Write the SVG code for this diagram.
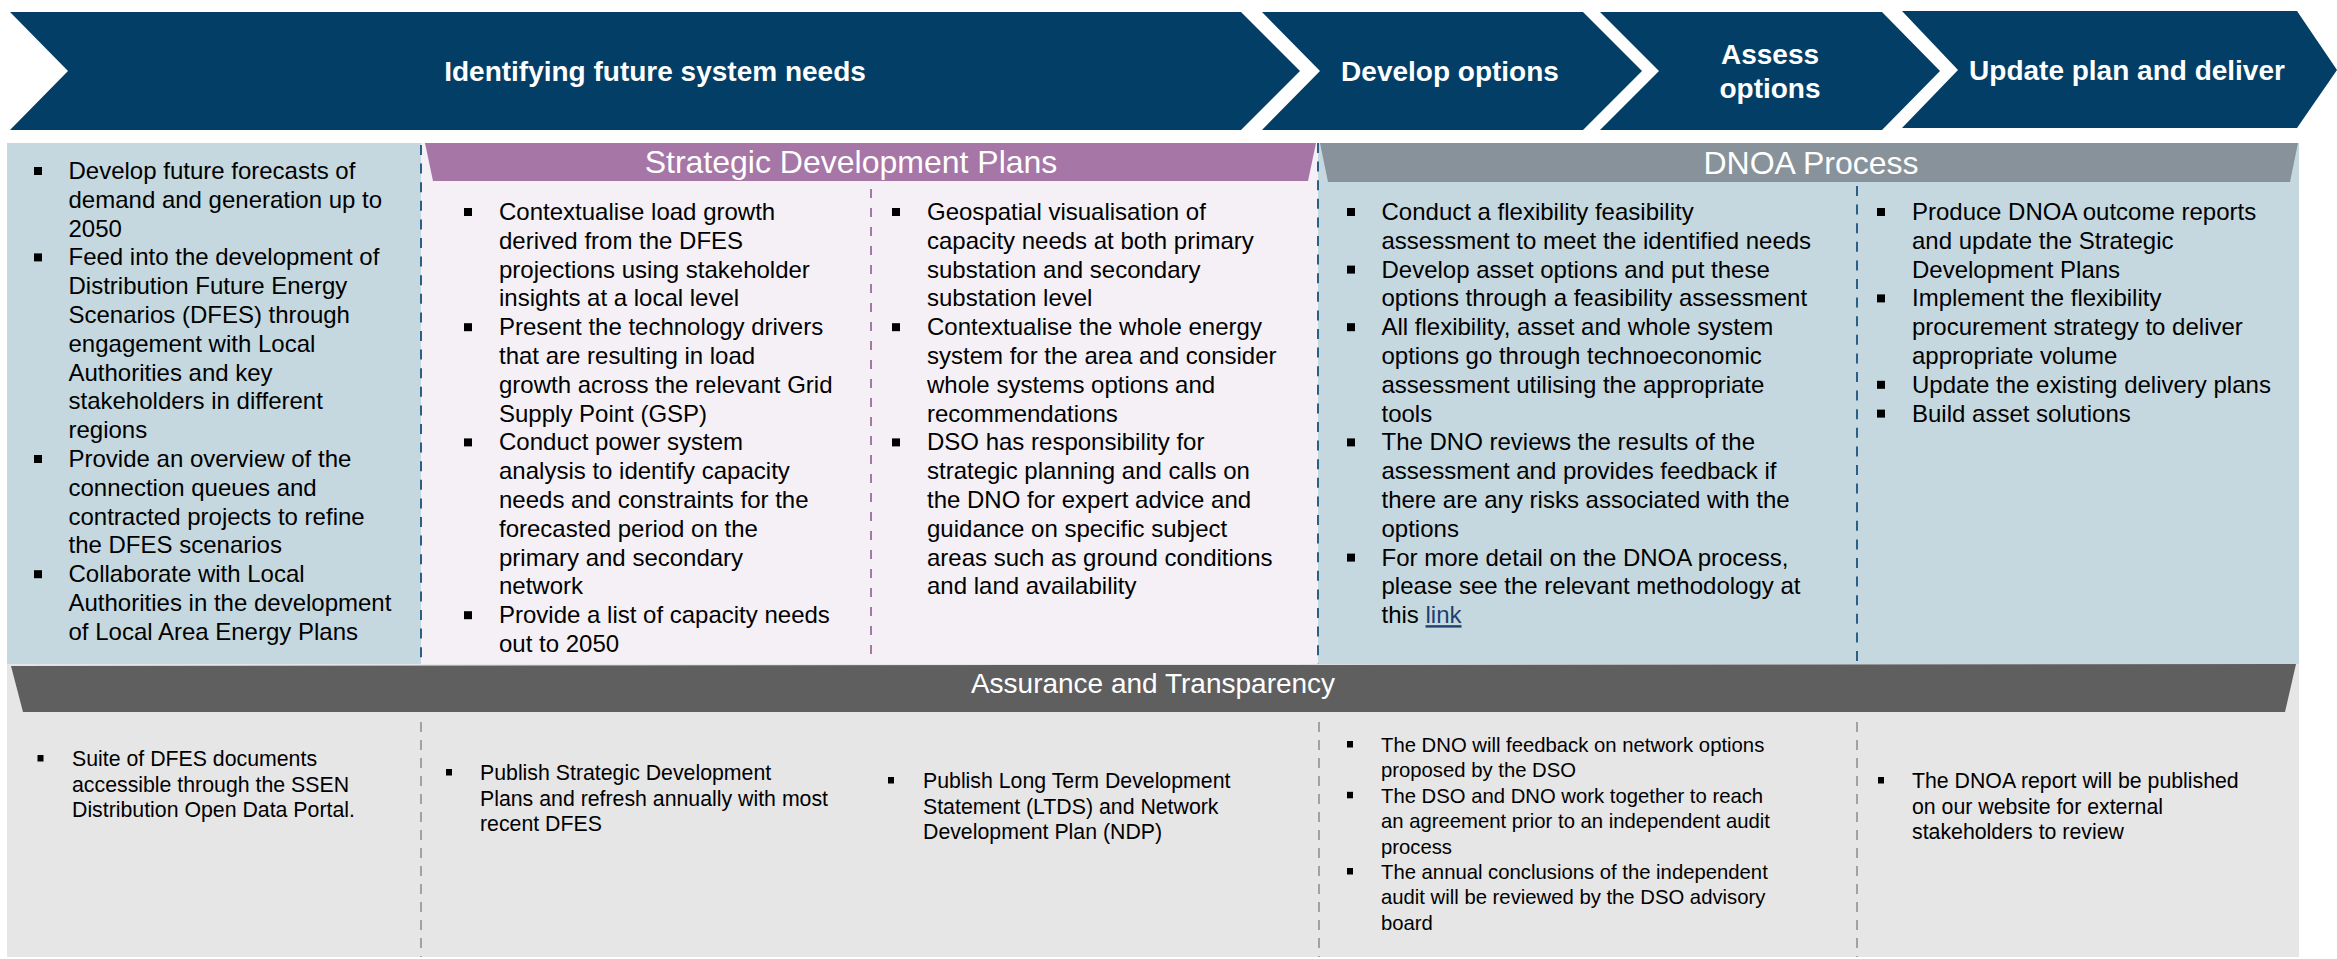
<svg xmlns="http://www.w3.org/2000/svg" width="2337" height="959" viewBox="0 0 2337 959">
<style>
.chev{fill:#023E66}
.ct{font-family:"Liberation Sans",Arial,sans-serif;font-weight:bold;font-size:28px;fill:#FFFFFF;text-anchor:middle}
.hd{font-family:"Liberation Sans",Arial,sans-serif;font-size:32px;fill:#FFFFFF;text-anchor:middle}
.bt{font-family:"Liberation Sans",Arial,sans-serif;font-size:24px;fill:#000000}
.st{font-family:"Liberation Sans",Arial,sans-serif;font-size:21.3px;fill:#000000}
.st2{font-family:"Liberation Sans",Arial,sans-serif;font-size:20.3px;fill:#000000}
.bl{fill:#000000}
.dblue{stroke:#2A5F86;stroke-width:2;stroke-dasharray:10 8.6;fill:none}
.dpur{stroke:#A676A6;stroke-width:2;stroke-dasharray:9 10;fill:none}
.dgray{stroke:#8C8C8C;stroke-width:1.5;stroke-dasharray:10 8;fill:none}
.lnk{fill:#1F3F6E;text-decoration:underline}
</style>

<g id="banner">
  <g id="chev-identify">
    <polygon class="chev" points="10,12 1241,12 1300,71 1241,130 10,130 68,71"/>
    <text class="ct" x="655" y="81">Identifying future system needs</text>
  </g>
  <g id="chev-develop">
    <polygon class="chev" points="1262,12 1583,12 1642,71 1583,130 1262,130 1320,71"/>
    <text class="ct" x="1450" y="81">Develop options</text>
  </g>
  <g id="chev-assess">
    <polygon class="chev" points="1600,12 1882,12 1940,71 1882,130 1600,130 1659,71"/>
    <text class="ct" x="1770" y="64">Assess</text>
    <text class="ct" x="1770" y="97.5">options</text>
  </g>
  <g id="chev-update">
    <polygon class="chev" points="1902,11 2297,11 2337,70 2297,128 1902,128 1958,70"/>
    <text class="ct" x="2127" y="80">Update plan and deliver</text>
  </g>
</g>

<g id="panels">
  <rect x="7" y="143" width="414" height="521" fill="#C5D8DF"/>
  <rect x="421" y="143" width="897" height="521" fill="#F4F0F6"/>
  <rect x="1318" y="143" width="981" height="521" fill="#C5D8DF"/>
  <rect x="7" y="664" width="2292" height="293" fill="#E6E6E6"/>
</g>

<g id="header-sdp">
  <polygon points="425,143 1316,143 1308,181 433,181" fill="#A676A6"/>
  <text class="hd" x="851" y="173">Strategic Development Plans</text>
</g>
<g id="header-dnoa">
  <polygon points="1320,143 2298,143 2290,182 1328,182" fill="#87929A"/>
  <text class="hd" x="1811" y="174">DNOA Process</text>
</g>
<g id="header-assurance">
  <polygon points="11,666 2296,664 2285,712 23,712" fill="#5F5F5F"/>
  <text class="hd" style="font-size:28px" x="1153" y="693">Assurance and Transparency</text>
</g>

<g id="connectors">
  <line class="dblue" x1="421" y1="145" x2="421" y2="664"/>
  <line class="dpur" x1="871" y1="189" x2="871" y2="664"/>
  <line class="dblue" x1="1318" y1="143" x2="1318" y2="664"/>
  <line class="dblue" x1="1857" y1="186" x2="1857" y2="664"/>
  <line class="dgray" x1="421" y1="722" x2="421" y2="957"/>
  <line class="dgray" x1="1319" y1="722" x2="1319" y2="957"/>
  <line class="dgray" x1="1857" y1="722" x2="1857" y2="957"/>
</g>

<g id="col-forecasts">
  <rect class="bl" x="34" y="167" width="8" height="8"/>
  <rect class="bl" x="34" y="253.4" width="8" height="8"/>
  <rect class="bl" x="34" y="455" width="8" height="8"/>
  <rect class="bl" x="34" y="570.2" width="8" height="8"/>
  <text class="bt" x="68.5" y="179">
    <tspan x="68.5" y="179">Develop future forecasts of</tspan>
    <tspan x="68.5" dy="28.8">demand and generation up to</tspan>
    <tspan x="68.5" dy="28.8">2050</tspan>
    <tspan x="68.5" dy="28.8">Feed into the development of</tspan>
    <tspan x="68.5" dy="28.8">Distribution Future Energy</tspan>
    <tspan x="68.5" dy="28.8">Scenarios (DFES) through</tspan>
    <tspan x="68.5" dy="28.8">engagement with Local</tspan>
    <tspan x="68.5" dy="28.8">Authorities and key</tspan>
    <tspan x="68.5" dy="28.8">stakeholders in different</tspan>
    <tspan x="68.5" dy="28.8">regions</tspan>
    <tspan x="68.5" dy="28.8">Provide an overview of the</tspan>
    <tspan x="68.5" dy="28.8">connection queues and</tspan>
    <tspan x="68.5" dy="28.8">contracted projects to refine</tspan>
    <tspan x="68.5" dy="28.8">the DFES scenarios</tspan>
    <tspan x="68.5" dy="28.8">Collaborate with Local</tspan>
    <tspan x="68.5" dy="28.8">Authorities in the development</tspan>
    <tspan x="68.5" dy="28.8">of Local Area Energy Plans</tspan>
  </text>
</g>

<g id="col-sdp-left">
  <rect class="bl" x="464" y="208" width="8" height="8"/>
  <rect class="bl" x="464" y="323.2" width="8" height="8"/>
  <rect class="bl" x="464" y="438.4" width="8" height="8"/>
  <rect class="bl" x="464" y="611.2" width="8" height="8"/>
  <text class="bt" x="499" y="220">
    <tspan x="499" y="220">Contextualise load growth</tspan>
    <tspan x="499" dy="28.8">derived from the DFES</tspan>
    <tspan x="499" dy="28.8">projections using stakeholder</tspan>
    <tspan x="499" dy="28.8">insights at a local level</tspan>
    <tspan x="499" dy="28.8">Present the technology drivers</tspan>
    <tspan x="499" dy="28.8">that are resulting in load</tspan>
    <tspan x="499" dy="28.8">growth across the relevant Grid</tspan>
    <tspan x="499" dy="28.8">Supply Point (GSP)</tspan>
    <tspan x="499" dy="28.8">Conduct power system</tspan>
    <tspan x="499" dy="28.8">analysis to identify capacity</tspan>
    <tspan x="499" dy="28.8">needs and constraints for the</tspan>
    <tspan x="499" dy="28.8">forecasted period on the</tspan>
    <tspan x="499" dy="28.8">primary and secondary</tspan>
    <tspan x="499" dy="28.8">network</tspan>
    <tspan x="499" dy="28.8">Provide a list of capacity needs</tspan>
    <tspan x="499" dy="28.8">out to 2050</tspan>
  </text>
</g>

<g id="col-sdp-right">
  <rect class="bl" x="892" y="208" width="8" height="8"/>
  <rect class="bl" x="892" y="323.2" width="8" height="8"/>
  <rect class="bl" x="892" y="438.4" width="8" height="8"/>
  <text class="bt" x="927" y="220">
    <tspan x="927" y="220">Geospatial visualisation of</tspan>
    <tspan x="927" dy="28.8">capacity needs at both primary</tspan>
    <tspan x="927" dy="28.8">substation and secondary</tspan>
    <tspan x="927" dy="28.8">substation level</tspan>
    <tspan x="927" dy="28.8">Contextualise the whole energy</tspan>
    <tspan x="927" dy="28.8">system for the area and consider</tspan>
    <tspan x="927" dy="28.8">whole systems options and</tspan>
    <tspan x="927" dy="28.8">recommendations</tspan>
    <tspan x="927" dy="28.8">DSO has responsibility for</tspan>
    <tspan x="927" dy="28.8">strategic planning and calls on</tspan>
    <tspan x="927" dy="28.8">the DNO for expert advice and</tspan>
    <tspan x="927" dy="28.8">guidance on specific subject</tspan>
    <tspan x="927" dy="28.8">areas such as ground conditions</tspan>
    <tspan x="927" dy="28.8">and land availability</tspan>
  </text>
</g>

<g id="col-dnoa-left">
  <rect class="bl" x="1347" y="208" width="8" height="8"/>
  <rect class="bl" x="1347" y="265.6" width="8" height="8"/>
  <rect class="bl" x="1347" y="323.2" width="8" height="8"/>
  <rect class="bl" x="1347" y="438.4" width="8" height="8"/>
  <rect class="bl" x="1347" y="553.6" width="8" height="8"/>
  <text class="bt" x="1381.5" y="220">
    <tspan x="1381.5" y="220">Conduct a flexibility feasibility</tspan>
    <tspan x="1381.5" dy="28.8">assessment to meet the identified needs</tspan>
    <tspan x="1381.5" dy="28.8">Develop asset options and put these</tspan>
    <tspan x="1381.5" dy="28.8">options through a feasibility assessment</tspan>
    <tspan x="1381.5" dy="28.8">All flexibility, asset and whole system</tspan>
    <tspan x="1381.5" dy="28.8">options go through technoeconomic</tspan>
    <tspan x="1381.5" dy="28.8">assessment utilising the appropriate</tspan>
    <tspan x="1381.5" dy="28.8">tools</tspan>
    <tspan x="1381.5" dy="28.8">The DNO reviews the results of the</tspan>
    <tspan x="1381.5" dy="28.8">assessment and provides feedback if</tspan>
    <tspan x="1381.5" dy="28.8">there are any risks associated with the</tspan>
    <tspan x="1381.5" dy="28.8">options</tspan>
    <tspan x="1381.5" dy="28.8">For more detail on the DNOA process,</tspan>
    <tspan x="1381.5" dy="28.8">please see the relevant methodology at</tspan>
    <tspan x="1381.5" dy="28.8">this <tspan class="lnk">link</tspan></tspan>
  </text>
</g>

<g id="col-dnoa-right">
  <rect class="bl" x="1877" y="208" width="8" height="8"/>
  <rect class="bl" x="1877" y="294.4" width="8" height="8"/>
  <rect class="bl" x="1877" y="380.8" width="8" height="8"/>
  <rect class="bl" x="1877" y="409.6" width="8" height="8"/>
  <text class="bt" x="1912" y="220">
    <tspan x="1912" y="220">Produce DNOA outcome reports</tspan>
    <tspan x="1912" dy="28.8">and update the Strategic</tspan>
    <tspan x="1912" dy="28.8">Development Plans</tspan>
    <tspan x="1912" dy="28.8">Implement the flexibility</tspan>
    <tspan x="1912" dy="28.8">procurement strategy to deliver</tspan>
    <tspan x="1912" dy="28.8">appropriate volume</tspan>
    <tspan x="1912" dy="28.8">Update the existing delivery plans</tspan>
    <tspan x="1912" dy="28.8">Build asset solutions</tspan>
  </text>
</g>

<g id="assure-dfes">
  <rect class="bl" x="37.5" y="755" width="6" height="6.5"/>
  <text class="st" x="72" y="766">
    <tspan x="72" y="766">Suite of DFES documents</tspan>
    <tspan x="72" dy="25.5">accessible through the SSEN</tspan>
    <tspan x="72" dy="25.5">Distribution Open Data Portal.</tspan>
  </text>
</g>
<g id="assure-sdp1">
  <rect class="bl" x="446" y="769" width="6" height="6.5"/>
  <text class="st" x="480" y="780">
    <tspan x="480" y="780">Publish Strategic Development</tspan>
    <tspan x="480" dy="25.5">Plans and refresh annually with most</tspan>
    <tspan x="480" dy="25.5">recent DFES</tspan>
  </text>
</g>
<g id="assure-sdp2">
  <rect class="bl" x="888" y="777" width="6" height="6.5"/>
  <text class="st" x="923" y="788">
    <tspan x="923" y="788">Publish Long Term Development</tspan>
    <tspan x="923" dy="25.5">Statement (LTDS) and Network</tspan>
    <tspan x="923" dy="25.5">Development Plan (NDP)</tspan>
  </text>
</g>
<g id="assure-dnoa1">
  <rect class="bl" x="1347" y="741" width="6" height="6.5"/>
  <rect class="bl" x="1347" y="791.8" width="6" height="6.5"/>
  <rect class="bl" x="1347" y="868" width="6" height="6.5"/>
  <text class="st2" x="1381" y="752">
    <tspan x="1381" y="752">The DNO will feedback on network options</tspan>
    <tspan x="1381" dy="25.4">proposed by the DSO</tspan>
    <tspan x="1381" dy="25.4">The DSO and DNO work together to reach</tspan>
    <tspan x="1381" dy="25.4">an agreement prior to an independent audit</tspan>
    <tspan x="1381" dy="25.4">process</tspan>
    <tspan x="1381" dy="25.4">The annual conclusions of the independent</tspan>
    <tspan x="1381" dy="25.4">audit will be reviewed by the DSO advisory</tspan>
    <tspan x="1381" dy="25.4">board</tspan>
  </text>
</g>
<g id="assure-dnoa2">
  <rect class="bl" x="1878" y="777" width="6" height="6.5"/>
  <text class="st" x="1912" y="788">
    <tspan x="1912" y="788">The DNOA report will be published</tspan>
    <tspan x="1912" dy="25.5">on our website for external</tspan>
    <tspan x="1912" dy="25.5">stakeholders to review</tspan>
  </text>
</g>
</svg>
